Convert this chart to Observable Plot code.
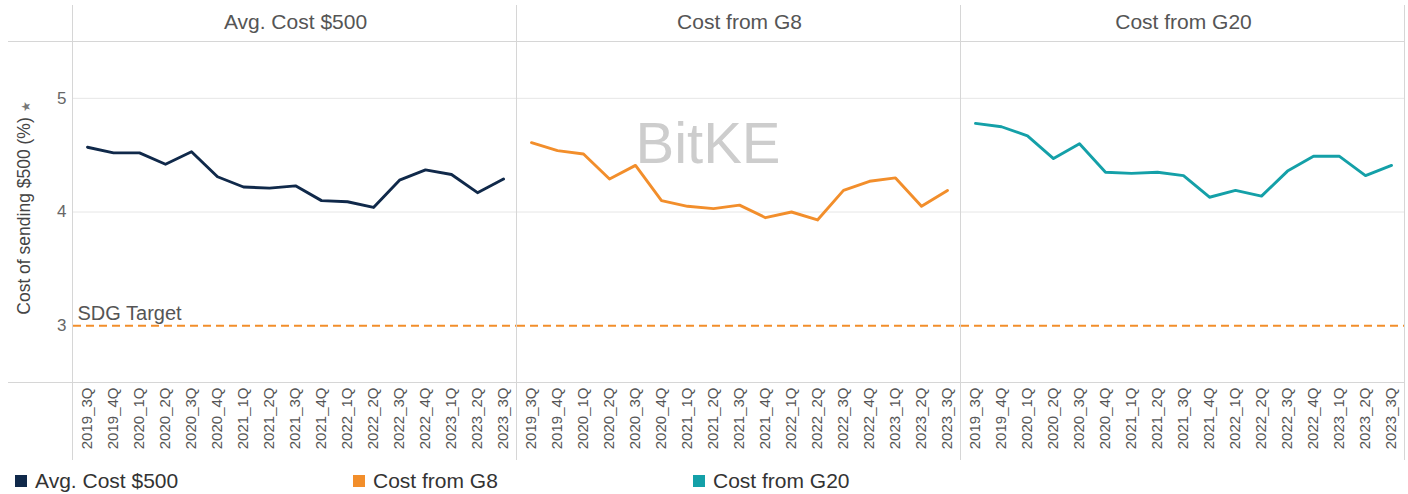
<!DOCTYPE html>
<html><head><meta charset="utf-8">
<script src="https://cdn.jsdelivr.net/npm/d3@7"></script>
<script src="https://cdn.jsdelivr.net/npm/@observablehq/plot@0.6"></script>
<style>
body{margin:0;background:#fff;font-family:"Liberation Sans",Arial,sans-serif;}
#wrap{position:relative;width:1408px;height:494px;overflow:hidden;}
#legend{position:absolute;left:0;top:464px;width:1408px;height:30px;}
.item{position:absolute;top:0;display:flex;align-items:center;height:34px;font-size:21px;color:#333;}
.sw{width:12px;height:12px;margin-right:8px;}
</style></head><body>
<div id="wrap"><div id="chart"></div><div id="legend"></div></div>
<script>
const quarters = ["2019_3Q","2019_4Q","2020_1Q","2020_2Q","2020_3Q","2020_4Q","2021_1Q","2021_2Q","2021_3Q","2021_4Q","2022_1Q","2022_2Q","2022_3Q","2022_4Q","2023_1Q","2023_2Q","2023_3Q"];
const seriesNames = ["Avg. Cost $500","Cost from G8","Cost from G20"];
const avgCost = [4.57,4.52,4.52,4.42,4.53,4.31,4.22,4.21,4.23,4.10,4.09,4.04,4.28,4.37,4.33,4.17,4.29];
const g8Cost  = [4.61,4.54,4.51,4.29,4.41,4.10,4.05,4.03,4.06,3.95,4.00,3.93,4.19,4.27,4.30,4.05,4.19];
const g20Cost = [4.78,4.75,4.67,4.47,4.60,4.35,4.34,4.35,4.32,4.13,4.19,4.14,4.36,4.49,4.49,4.32,4.41];
const sdgTarget = 3;
const sdgLabel = "SDG Target";
const yTicks = [3,4,5];
const gridTicks = [4,5];
const colors = ["#10294a","#f28e2b","#14a0a8"];
const yLabel = "Cost of sending $500 (%)";
const watermark = "BitKE";

const data = [];
[avgCost,g8Cost,g20Cost].forEach((vals,i)=>vals.forEach((v,j)=>data.push({series:seriesNames[i],quarter:quarters[j],value:v})));

const W=1408,H=460,mL=73,mR=3,mT=41,mB=78;
const chart = Plot.plot({
  width:W,height:H,marginLeft:mL,marginRight:mR,marginTop:mT,marginBottom:mB,
  style:{fontFamily:"Liberation Sans, Arial, sans-serif",color:"#555",background:"#fff",overflow:"visible"},
  fx:{domain:seriesNames,padding:0,label:null},
  x:{type:"point",domain:quarters,padding:0.5,label:null},
  y:{domain:[2.5,5.5],label:null},
  color:{domain:seriesNames,range:colors},
  marks:[
    Plot.gridY(gridTicks,{stroke:"#e6e6e6",strokeOpacity:1,strokeWidth:1}),
    Plot.ruleY([sdgTarget],{stroke:"#f28e2b",strokeWidth:2,strokeDasharray:"8,5"}),
    Plot.line(data,{fx:"series",x:"quarter",y:"value",stroke:"series",strokeWidth:2.9,strokeLinejoin:"round"}),
    Plot.text([{series:seriesNames[0],label:sdgLabel,v:sdgTarget}],{fx:"series",y:"v",frameAnchor:"left",text:"label",textAnchor:"start",lineAnchor:"bottom",dx:4,dy:-6,fontSize:20,fill:"#555"}),
    Plot.axisFx({anchor:"top",tickSize:0,tickPadding:13,fontSize:21,label:null,fill:"#555"}),
    Plot.axisX({tickRotate:-90,tickSize:0,tickPadding:5,fontSize:15,label:null,fill:"#555"}),
    Plot.axisY({ticks:yTicks,tickFormat:"d",tickSize:0,tickPadding:7,fontSize:17,fill:"#666",label:null})
  ]
});
document.getElementById("chart").appendChild(chart);

// decorations
const svg = d3.select(chart);
const pw = (W-mL-mR)/3;
const deco = svg.insert("g",":first-child");
deco.append("text").attr("x",708).attr("y",163).attr("text-anchor","middle")
  .attr("font-size",58).attr("fill","#cdcdcd").attr("font-family","Liberation Sans, Arial, sans-serif").text(watermark);
const yl = svg.append("text").attr("transform","translate(30,208) rotate(-90)").attr("text-anchor","middle")
  .attr("font-size",17.5).attr("fill","#444").attr("font-family","Liberation Sans, Arial, sans-serif");
yl.append("tspan").text(yLabel);
yl.append("tspan").attr("font-size",12).attr("fill","#777").attr("dx",5).text("\u2605");
const fr = svg.append("g").attr("stroke","#d6d6d6").attr("stroke-width",1);
for(let k=0;k<=3;k++){
  const x = Math.round(mL+k*pw)-0.5;
  fr.append("line").attr("x1",x).attr("x2",x).attr("y1",5).attr("y2",H);
}
[mT, H-mB].forEach(y=>fr.append("line").attr("x1",8).attr("x2",W-mR).attr("y1",y+0.5).attr("y2",y+0.5));

// legend
const lg = d3.select("#legend");
const lx = [15,353,693];
seriesNames.forEach((s,i)=>{
  const it = lg.append("div").attr("class","item").style("left",lx[i]+"px");
  it.append("div").attr("class","sw").style("background",colors[i]);
  it.append("span").text(s);
});
</script>
</body></html>
